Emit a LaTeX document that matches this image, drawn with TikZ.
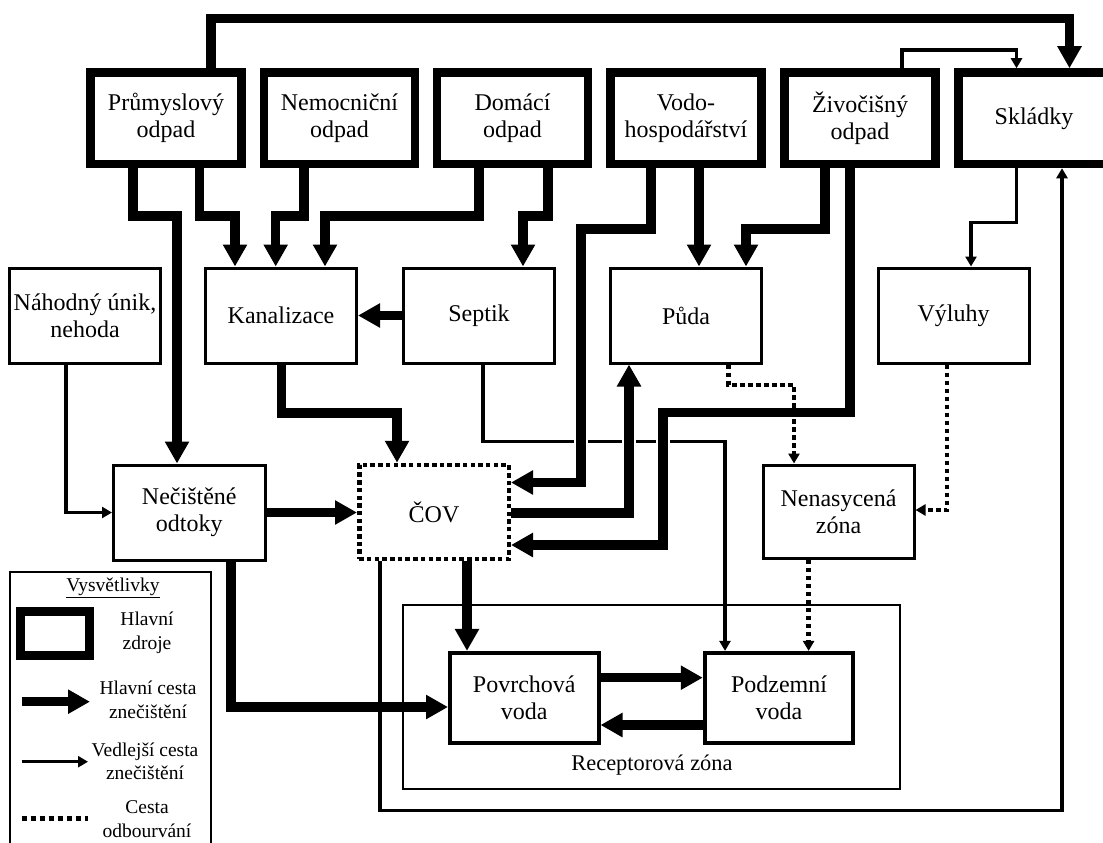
\documentclass[tikz,border=0pt]{standalone}
\usepackage{fontspec}
\setmainfont{Liberation Serif}
\usetikzlibrary{arrows.meta}
\begin{document}
\begin{tikzpicture}[x=1pt,y=-1pt,
  zdroj/.style={draw,line width=8.5pt,minimum width=151pt,minimum height=91.5pt,inner sep=0pt,align=center,font=\fontsize{24}{27}\selectfont},
  bx/.style={draw,line width=3pt,minimum width=151pt,minimum height=95pt,inner sep=0pt,align=center,font=\fontsize{24}{27}\selectfont},
  voda/.style={bx,line width=4pt,minimum width=148.5pt,minimum height=90pt},
  lt/.style={align=center,inner sep=0pt,font=\fontsize{19.5}{23.5}\selectfont},
  hl/.style={line width=9.5pt,-{Triangle[length=22pt,width=23pt]}},
  vl/.style={line width=3.5pt,-{Triangle[length=10pt,width=11pt]}},
  odb/.style={line width=4.5pt,dash pattern=on 4.5pt off 3.5pt,-{Triangle[length=10pt,width=11pt]}},
  over/.style={preaction={draw=white,line width=14pt,-}}]
\useasboundingbox (0,0) rectangle (1103,843);
% hlavni zdroje
\node[zdroj] (prum) at (166,118.25) {Průmyslový\\odpad};
\node[zdroj] (nemoc) at (339.5,118.25) {Nemocniční\\odpad};
\node[zdroj] (domaci) at (512.5,118.25) {Domácí\\odpad};
\node[zdroj] (vodo) at (686,118.25) {Vodo-\\hospodářství};
\node[zdroj] (zivoc) at (860,118.25) {Živočišný\\odpad};
\node[zdroj,minimum width=151.5pt] (skl) at (1034,118.25) {Skládky};
% mezicesty
\node[bx] (nahod) at (85,315.5) {Náhodný únik,\\nehoda};
\node[bx] (kanal) at (281,315.5) {Kanalizace};
\node[bx] (septik) at (479,315.5) {Septik};
\node[bx] (puda) at (686,315.5) {Půda};
\node[bx] (vyluh) at (953.5,315.5) {Výluhy};
\node[bx,minimum width=151.5pt] (necist) at (189.25,512.5) {Nečištěné\\odtoky};
\node[bx,line width=4.5pt,dash pattern=on 4.5pt off 3.2pt,minimum width=149.5pt,minimum height=94pt] (cov) at (434,512) {ČOV};
\node[bx,minimum height=93pt] (nenas) at (838.5,511.5) {Nenasycená\\zóna};
% receptorova zona
\node[draw,line width=1.5pt,minimum width=497.3pt,minimum height=184pt] (rz) at (651.4,697) {};
\node[font=\fontsize{22.4}{26}\selectfont,inner sep=0pt] (rzl) at (652,765) {Receptorová zóna};
\node[voda] (povrch) at (524.25,697.9) {Povrchová\\voda};
\node[voda] (podzem) at (779,697.9) {Podzemní\\voda};
% vedlejsi cesta pod hlavnimi
\draw[vl] (septik.south -| 483,0) |- (725,441.7) -- (podzem.north -| 725,0);
% hlavni cesty
\draw[hl] (prum.north -| 211,0) |- (1069.5,18.5) -- (skl.north -| 1069.5,0);
\draw[hl] (prum.south -| 133,0) |- (177,216) -- (necist.north -| 177,0);
\draw[hl] (prum.south -| 199.5,0) |- (235,216) -- (kanal.north -| 235,0);
\draw[hl] (nemoc.south -| 304,0) |- (275.7,216) -- (kanal.north -| 275.7,0);
\draw[hl] (domaci.south -| 479,0) |- (325,216) -- (kanal.north -| 325,0);
\draw[hl] (domaci.south -| 548,0) |- (523,216) -- (septik.north -| 523,0);
\draw[hl] (vodo.south -| 699,0) -- (puda.north -| 699,0);
\draw[hl] (zivoc.south -| 825,0) |- (746,229) -- (puda.north -| 746,0);
\draw[hl] (septik.west) -- (kanal.east);
\draw[hl] (kanal.south -| 281.5,0) |- (397,413) -- (cov.north -| 397,0);
\draw[hl] (necist.east) -- (necist.east -| cov.west);
\draw[hl] (necist.south -| 231,0) |- (povrch.west |- 0,707);
\draw[hl] (cov.south -| 467,0) -- (povrch.north -| 467,0);
\draw[hl] (povrch.east |- 0,677.7) -- (podzem.west |- 0,677.7);
\draw[hl] (podzem.west |- 0,725) -- (povrch.east |- 0,725);
\draw[hl,over] (vodo.south -| 651,0) |- (581,229) |- (cov.east |- 0,482.5);
\draw[hl,over] (zivoc.south -| 850,0) |- (663,412.5) |- (cov.east |- 0,545);
\draw[hl,over] (cov.east |- 0,513) -| (puda.south -| 629,0);
% vedlejsi cesty
\draw[vl] (nahod.south -| 66,0) |- (necist.west);
\draw[vl] (zivoc.north -| 902,0) |- (1016.5,50) -- (skl.north -| 1016.5,0);
\draw[vl] (skl.south -| 1016.7,0) |- (971,222.7) -- (vyluh.north -| 971,0);
\draw[vl] (cov.south -| 380,0) |- (1062,810.7) -- (skl.south -| 1062,0);
% odbouravani
\draw[odb] (puda.south -| 728.5,0) |- (794,385) -- (nenas.north -| 794,0);
\draw[odb] (vyluh.south -| 947,0) |- (nenas.east |- 0,510);
\draw[odb] (nenas.south -| 808.6,0) -- (podzem.north -| 808.6,0);
% vysvetlivky
\node[draw,line width=1.5pt,minimum width=201pt,minimum height=290pt] (leg) at (110.5,717) {};
\node[lt] (legt) at (113,588) {\underline{Vysvětlivky}};
\node[draw,line width=9pt,minimum width=69pt,minimum height=44.5pt,inner sep=0pt] (legz) at (55,633.3) {};
\node[lt] (legzt) at (147,633) {Hlavní\\zdroje};
\coordinate (lh1) at (21.7,701.7);
\coordinate (lh2) at (90,701.7);
\draw[hl] (lh1) -- (lh2);
\node[lt] (lht) at (148,700) {Hlavní cesta\\znečištění};
\coordinate (lv1) at (21.7,761.7);
\coordinate (lv2) at (88,761.7);
\draw[vl] (lv1) -- (lv2);
\node[lt] (lvt) at (145,761.5) {Vedlejší cesta\\znečištění};
\coordinate (lo1) at (21.7,818);
\coordinate (lo2) at (88,818);
\draw[line width=5pt,dash pattern=on 5pt off 4pt] (lo1) -- (lo2);
\node[lt] (lot) at (147,819) {Cesta\\odbourvání};
\end{tikzpicture}
\end{document}
